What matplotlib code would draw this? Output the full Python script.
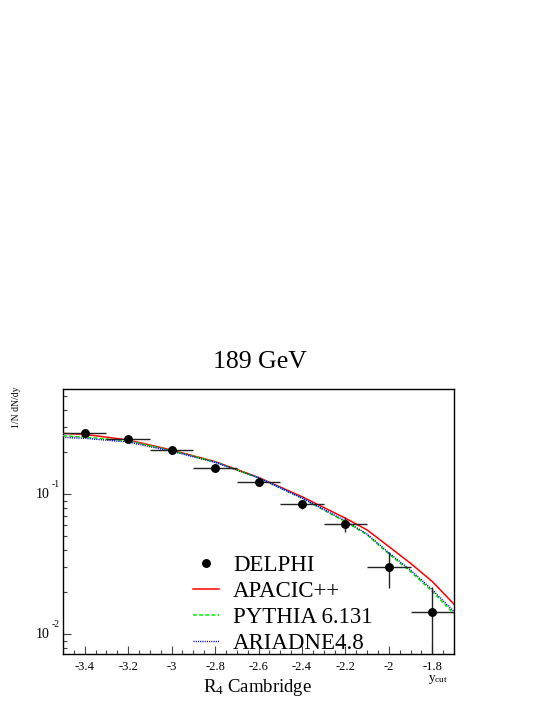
import matplotlib
matplotlib.use("Agg")
import matplotlib.pyplot as plt
import matplotlib.ticker as mticker
from matplotlib.lines import Line2D
from matplotlib.legend_handler import HandlerLine2D
from matplotlib.transforms import blended_transform_factory, offset_copy

plt.rcParams['font.family'] = ['Liberation Serif', 'DejaVu Serif']
plt.rcParams['mathtext.fontset'] = 'custom'
plt.rcParams['mathtext.rm'] = 'Liberation Serif'
plt.rcParams['mathtext.it'] = 'Liberation Serif:italic'
plt.rcParams['axes.unicode_minus'] = False

# ---- data ----
title = "189 GeV"
x_data = [-3.4, -3.2, -3.0, -2.8, -2.6, -2.4, -2.2, -2.0, -1.8]
delphi = [0.275, 0.247, 0.207, 0.155, 0.123, 0.0848, 0.0610, 0.0301, 0.0144]
delphi_yerr = [0.006, 0.005, 0.005, 0.004, 0.004, 0.0065, 0.0073, 0.0088, 0.0073]
delphi_xerr = [0.1] * 9

x_curve = [-3.5, -3.4, -3.2, -3.0, -2.8, -2.6, -2.4, -2.2, -2.1, -2.0, -1.9, -1.8, -1.7]
apacic = [0.272, 0.268, 0.244, 0.207, 0.171, 0.132, 0.096, 0.0674, 0.0556, 0.0423, 0.0321, 0.0238, 0.0164]
pythia = [0.262, 0.256, 0.240, 0.205, 0.170, 0.131, 0.0936, 0.0637, 0.0512, 0.0375, 0.0280, 0.0202, 0.0140]
ariadne = [0.255, 0.251, 0.236, 0.203, 0.169, 0.131, 0.0940, 0.0645, 0.0520, 0.0382, 0.0287, 0.0208, 0.0145]

labels = ["DELPHI", "APACIC++", "PYTHIA 6.131", "ARIADNE4.8"]
x_ticks = [-3.4, -3.2, -3.0, -2.8, -2.6, -2.4, -2.2, -2.0, -1.8]
y_ticks = [0.1, 0.01]
y_tick_exp = ["-1", "-2"]

W, H = 545, 705
fig = plt.figure(figsize=(W / 100, H / 100), dpi=100)
ax = fig.add_axes([63 / W, 1 - 654 / H, (454 - 63) / W, (654 - 389.3) / H])

ax.set_yscale('log')
ax.set_xlim(-3.5, -1.7)
ax.set_ylim(0.00723, 0.562)

ax.plot(x_curve, apacic, color='#ff0000', lw=1.1, zorder=3)
ax.plot(x_curve, pythia, color='#00ee00', lw=1.1, ls=(0, (2.5, 1.5)), zorder=3)
ax.plot(x_curve, ariadne, color='#0000cc', lw=1.0, ls=(0, (0.8, 0.8)), zorder=3)
ax.errorbar(x_data, delphi, yerr=delphi_yerr, xerr=delphi_xerr, fmt='o',
            color='black', ecolor='#222222', elinewidth=1.0, capsize=0,
            markersize=5.4, zorder=4)

# ticks
ax.xaxis.set_major_locator(mticker.FixedLocator(x_ticks))
ax.xaxis.set_minor_locator(mticker.MultipleLocator(0.05))
ax.xaxis.set_major_formatter(mticker.FuncFormatter(lambda v, p: '%g' % v))
ax.yaxis.set_major_locator(mticker.FixedLocator(y_ticks))
ax.yaxis.set_minor_locator(mticker.LogLocator(base=10, subs=[2, 3, 4, 5, 6, 7, 8, 9]))
ax.yaxis.set_major_formatter(mticker.NullFormatter())
ax.yaxis.set_minor_formatter(mticker.NullFormatter())
ax.tick_params(which='both', direction='in', top=False, right=False, color='#444444')
ax.tick_params(which='major', length=5.5, width=0.8)
ax.tick_params(which='minor', length=3, width=0.8)
ax.tick_params(axis='x', which='major', labelsize=9, pad=5)
for s in ax.spines.values():
    s.set_linewidth(1.0)

# y tick labels 10^-n
tr = blended_transform_factory(fig.transFigure, ax.transData)
for v, e in zip(y_ticks, y_tick_exp):
    ax.text(49.3 / W, v, "10", transform=tr, ha='right', va='center', fontsize=10)
    ax.text(51.5 / W, v, e, transform=offset_copy(tr, fig=fig, x=0, y=9.5, units='dots'),
            ha='left', va='center', fontsize=7)

# texts
fig.text(260 / W, 1 - 362 / H, title, ha='center', va='center', fontsize=18.5)
fig.text(16.7 / W, 1 - 407.5 / H, "1/N dN/dy", rotation=90, ha='center', va='center', fontsize=7)
fig.text(257.8 / W, 1 - 692.3 / H, r'$\mathregular{R_4}$ Cambridge', ha='center', va='baseline', fontsize=13.5)
fig.text(428 / W, 1 - 681 / H, r'$\mathregular{y_{cut}}$', ha='left', va='baseline', fontsize=9.5)


class RightMarkerHandler(HandlerLine2D):
    def get_xdata(self, legend, xdescent, ydescent, width, height, fontsize):
        xdata, _ = super().get_xdata(legend, xdescent, ydescent, width, height, fontsize)
        return xdata, [-xdescent + width]


# legend
handles = [
    Line2D([], [], color='black', marker='o', ls='none', markersize=5.4),
    Line2D([], [], color='#ff0000', lw=1.1),
    Line2D([], [], color='#00ee00', lw=1.1, ls=(0, (2.5, 1.5))),
    Line2D([], [], color='#0000cc', lw=1.0, ls=(0, (0.8, 0.8))),
]
fig.legend(handles, labels, loc='upper left', bbox_to_anchor=(193 / W, 1 - 554.5 / H),
           frameon=False, fontsize=16.5, handlelength=1.15, handletextpad=0.6,
           labelspacing=0.22, borderpad=0, borderaxespad=0,
           handler_map={handles[0]: RightMarkerHandler(numpoints=1)})

fig.savefig('out.png', dpi=100)
